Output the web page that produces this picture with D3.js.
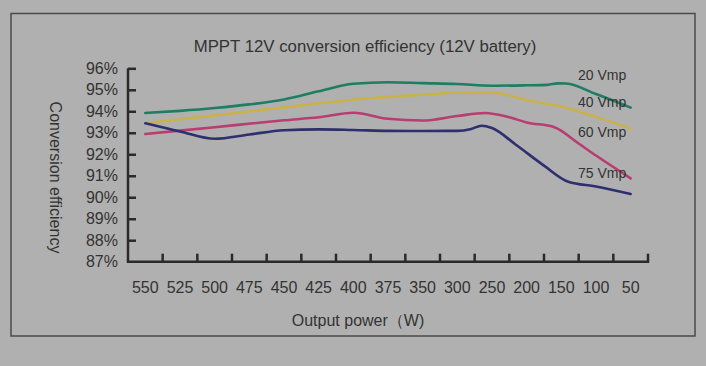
<!DOCTYPE html>
<html>
<head>
<meta charset="utf-8">
<script src="https://cdn.jsdelivr.net/npm/d3@7"></script>
<style>
  html, body { margin: 0; padding: 0; background: #b0b0b0; }
  svg { display: block; }
  text { font-family: "Liberation Sans", Arial, sans-serif; fill: #333; }
</style>
</head>
<body>
<svg id="chart" width="706" height="366"></svg>
<script>
// ---- data ----
const categories = ["550","525","500","475","450","425","400","375","350","300","250","200","150","100","50"];
const categoryWatts = [550,525,500,475,450,425,400,375,350,300,250,200,150,100,50];
const yTicks = [87,88,89,90,91,92,93,94,95,96];

const series20 = [[550,93.92],[525,94.02],[500,94.15],[475,94.32],[450,94.55],[425,94.93],[400,95.28],[375,95.35],[350,95.31],[300,95.27],[250,95.19],[200,95.21],[170,95.23],[155,95.3],[143,95.29],[100,94.8],[50,94.17]];
const series40 = [[550,93.44],[500,93.81],[450,94.18],[425,94.37],[400,94.54],[375,94.67],[350,94.77],[300,94.86],[250,94.87],[225,94.73],[200,94.52],[150,94.22],[100,93.74],[50,93.2]];
const series60 = [[550,92.94],[500,93.26],[450,93.58],[425,93.72],[400,93.93],[375,93.65],[350,93.57],[300,93.78],[260,93.92],[225,93.72],[200,93.48],[160,93.26],[125,92.5],[100,91.94],[50,90.88]];
const series75 = [[550,93.44],[525,93.06],[500,92.72],[475,92.92],[450,93.12],[425,93.16],[400,93.13],[375,93.09],[350,93.08],[300,93.09],[280,93.18],[265,93.33],[250,93.22],[215,92.43],[175,91.47],[140,90.72],[100,90.5],[50,90.15]];

const seriesNames = ["20 Vmp","40 Vmp","60 Vmp","75 Vmp"];
const seriesColors = ["#1e7d62","#c9b24a","#b83d70","#2e2f6e"];
const allSeries = [series20, series40, series60, series75];

const titleText = "MPPT 12V conversion efficiency (12V battery)";
const xTitle = "Output power（W)";
const yTitle = "Conversion efficiency";

// ---- layout ----
const svg = d3.select("#chart");
const plot = {left: 128, right: 648, top: 68.3, bottom: 261.7};

svg.append("rect")
  .attr("x", 11).attr("y", 13.5).attr("width", 684).attr("height", 322.5)
  .attr("fill", "none").attr("stroke", "#4a4a4a").attr("stroke-width", 1.5);

const band = d3.scaleBand().domain(categories).range([plot.left, plot.right]).padding(0);
const bw = band.bandwidth();
const x = d3.scaleLinear()
  .domain(categoryWatts)
  .range(categories.map(c => band(c) + bw / 2));
const y = d3.scaleLinear().domain([87, 96]).range([plot.bottom, plot.top]);

// title
svg.append("text").attr("x", 365).attr("y", 51.5)
  .attr("text-anchor", "middle").attr("font-size", 16.8).text(titleText);

// y axis
const yAxis = d3.axisLeft(y).tickValues(yTicks).tickFormat(d => d + "%")
  .tickSize(-8).tickPadding(10);
const gy = svg.append("g").attr("transform", `translate(${plot.left},0)`).call(yAxis);
gy.select(".domain").attr("stroke", "#2a2a2a").attr("stroke-width", 2.5)
  .attr("d", `M0,${plot.top}V${plot.bottom}`);
gy.selectAll(".tick line").attr("stroke", "#2a2a2a").attr("stroke-width", 2.5);
gy.selectAll(".tick text").attr("font-size", 16).attr("fill", "#3a3a3a")
  .attr("font-family", "Liberation Sans, Arial, sans-serif");
gy.selectAll(".tick").filter(d => d === 87).select("line").remove();

// x axis: line, boundary ticks, centered labels
const gx = svg.append("g");
gx.append("line").attr("x1", plot.left - 1.2).attr("x2", plot.right + 1.2)
  .attr("y1", plot.bottom).attr("y2", plot.bottom)
  .attr("stroke", "#2a2a2a").attr("stroke-width", 2.5);
const bounds = categories.map(c => band(c)).concat([plot.right]).slice(1);
gx.selectAll("line.tk").data(bounds).enter().append("line").attr("class", "tk")
  .attr("x1", d => d).attr("x2", d => d)
  .attr("y1", plot.bottom).attr("y2", plot.bottom - 8)
  .attr("stroke", "#2a2a2a").attr("stroke-width", 2.5);
gx.selectAll("text").data(categories).enter().append("text")
  .attr("x", c => band(c) + bw / 2).attr("y", 293)
  .attr("text-anchor", "middle").attr("font-size", 16).attr("fill", "#3a3a3a")
  .text(c => c);

svg.append("text").attr("x", 358).attr("y", 326)
  .attr("text-anchor", "middle").attr("font-size", 16).text(xTitle);

svg.append("text")
  .attr("transform", "translate(49.5,177.5) rotate(90)")
  .attr("text-anchor", "middle").attr("font-size", 16).text(yTitle);

// lines
const line = d3.line().x(d => x(d[0])).y(d => y(d[1])).curve(d3.curveMonotoneX);
allSeries.forEach((s, i) => {
  svg.append("path").datum(s).attr("d", line)
    .attr("fill", "none").attr("stroke", seriesColors[i]).attr("stroke-width", 2.6)
    .attr("stroke-linejoin", "round").attr("stroke-linecap", "round");
});

// series labels
const labelY = [75, 102.3, 131.7, 173.3];
seriesNames.forEach((n, i) => {
  svg.append("text").attr("x", 578).attr("y", labelY[i] + 5)
    .attr("font-size", 14).attr("fill", "#333").text(n);
});
</script>
</body>
</html>
